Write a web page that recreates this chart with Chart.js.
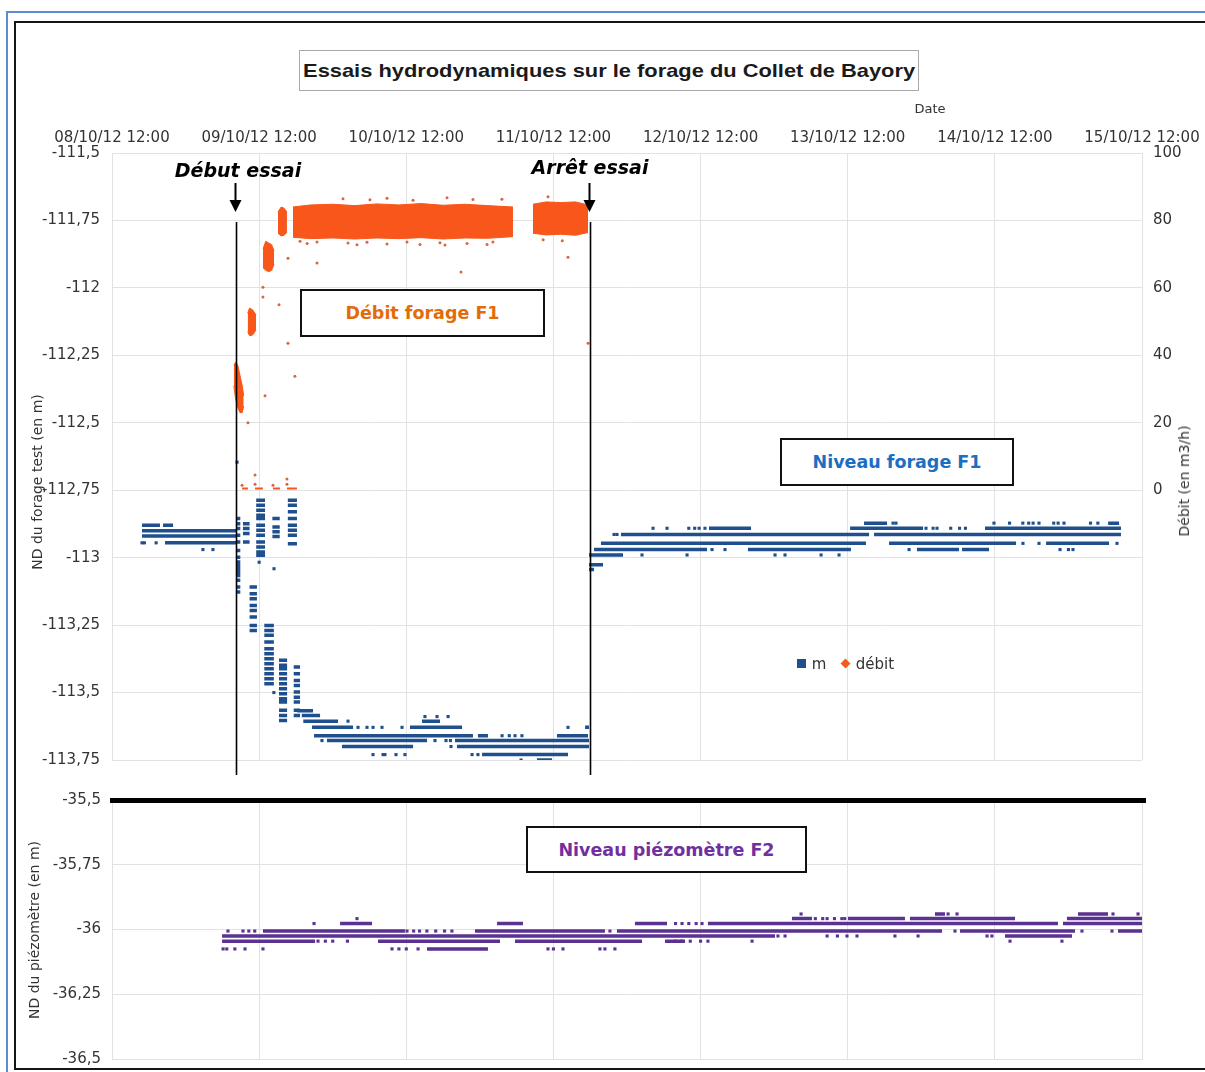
<!DOCTYPE html>
<html><head><meta charset="utf-8">
<script src="https://cdn.jsdelivr.net/npm/chart.js@4.4.0/dist/chart.umd.min.js"></script>
<style>
html,body{margin:0;padding:0;background:#fff;width:1205px;height:1072px;overflow:hidden;}
#wrap{position:relative;width:1205px;height:1072px;overflow:hidden;font-family:"DejaVu Sans",sans-serif;}
canvas{position:absolute;left:0;}
.ov{position:absolute;pointer-events:none;box-sizing:border-box;}
.c{position:absolute;transform:translate(-50%,-50%);white-space:nowrap;pointer-events:none;}
.rot{position:absolute;transform:translate(-50%,-50%) rotate(-90deg);white-space:nowrap;font-size:14px;color:#333;pointer-events:none;}
.box{position:absolute;box-sizing:border-box;border:2px solid #111;background:#fff;display:flex;align-items:center;justify-content:center;font-family:"DejaVu Sans",sans-serif;font-weight:bold;font-size:17.5px;}
.ann{font-family:"DejaVu Sans",sans-serif;font-weight:bold;font-style:italic;font-size:19px;color:#000;}
</style></head><body>
<div id="wrap">
<canvas id="top" width="1205" height="790" style="top:0"></canvas>
<canvas id="bot" width="1205" height="292" style="top:780px"></canvas>

<div class="ov" style="left:6px;top:11px;width:1300px;height:1200px;border-left:2px solid #5b8bd3;border-top:2px solid #5b8bd3;"></div>
<div class="ov" style="left:14px;top:21px;width:1300px;height:1049px;border:2px solid #151515;"></div>

<div class="ov" style="left:299px;top:50px;width:620px;height:41px;border:1.5px solid #a9a9a9;background:#fff;display:flex;align-items:center;justify-content:center;">
  <span style="display:inline-block;font-family:'Liberation Sans',Arial,sans-serif;font-weight:bold;font-size:19px;color:#1a1a1a;transform:scaleX(1.15);white-space:nowrap;">Essais hydrodynamiques sur le forage du Collet de Bayory</span>
</div>
<div class="c" style="left:930px;top:108px;font-size:13px;color:#333;">Date</div>

<div class="c ann" style="left:238px;top:170px;">Début essai</div>
<div class="c ann" style="left:590px;top:167px;">Arrêt essai</div>

<div class="box" style="left:300px;top:289px;width:245px;height:48px;color:#e36c0a;">Débit forage F1</div>
<div class="box" style="left:780px;top:438px;width:234px;height:48px;color:#1b6ec2;">Niveau forage F1</div>
<div class="box" style="left:526px;top:826px;width:281px;height:47px;color:#7030a0;">Niveau piézomètre F2</div>

<div class="rot" style="left:37px;top:482px;">ND du forage test (en m)</div>
<div class="rot" style="left:1184px;top:481px;">Débit (en m3/h)</div>
<div class="rot" style="left:34px;top:930px;">ND du piézomètre (en m)</div>

<div class="ov" style="left:797px;top:659px;width:9px;height:9px;background:#1f4f8c;"></div>
<div class="c" style="left:819px;top:664px;font-size:15px;color:#333;">m</div>
<div class="ov" style="left:842px;top:660px;width:7px;height:7px;background:#f55a1e;transform:rotate(45deg);"></div>
<div class="c" style="left:875px;top:664px;font-size:15px;color:#333;">débit</div>

<div class="ov" style="left:110px;top:798px;width:1036px;height:5px;background:#000;"></div>
</div>
<script>
// ---- axis labels ----
const dayValues = [0,1,2,3,4,5,6,7];
const dayLabels = ['08/10/12 12:00','09/10/12 12:00','10/10/12 12:00','11/10/12 12:00','12/10/12 12:00','13/10/12 12:00','14/10/12 12:00','15/10/12 12:00'];
const levelValues = [-113.75,-113.5,-113.25,-113,-112.75,-112.5,-112.25,-112,-111.75,-111.5];
const levelLabels = ['-113,75','-113,5','-113,25','-113','-112,75','-112,5','-112,25','-112','-111,75','-111,5'];
const debitValues = [0,20,40,60,80,100];
const debitLabels = ['0','20','40','60','80','100'];
const piezoValues = [-36.5,-36.25,-36,-35.75,-35.5];
const piezoLabels = ['-36,5','-36,25','-36','-35,75','-35,5'];
// test start / stop (days after 08/10/12 12:00)
const testMarks = [0.843, 3.249];

// ---- niveau forage F1 (m): dense runs [x0, x1, niveau] ----
const mRuns = [
 [0.204,0.326,-112.88],[0.347,0.415,-112.88],
 [0.204,0.843,-112.90],[0.204,0.843,-112.92],[0.36,0.843,-112.945],
 [1.26,1.366,-113.567],[1.29,1.414,-113.585],[1.30,1.536,-113.606],[2.107,2.229,-113.606],
 [1.359,1.638,-113.629],[2.025,2.379,-113.629],[3.215,3.242,-113.629],
 [1.373,2.453,-113.66],[2.487,2.555,-113.66],[3.024,3.235,-113.66],
 [1.461,2.141,-113.678],[2.331,3.242,-113.678],
 [1.563,2.046,-113.70],[2.345,3.242,-113.70],
 [2.515,3.099,-113.73],[2.888,2.99,-113.75],
 [3.242,3.276,-113.044],[3.242,3.337,-113.026],[3.242,3.473,-112.99],
 [3.276,4.044,-112.97],[4.322,5.022,-112.97],[5.471,5.756,-112.97],[5.777,5.96,-112.97],
 [3.323,5.124,-112.947],[5.281,6.144,-112.947],[6.348,6.776,-112.947],
 [3.459,5.145,-112.914],[5.179,6.857,-112.914],
 [4.057,4.343,-112.891],[5.016,5.512,-112.891],[5.933,6.857,-112.891],
 [5.111,5.267,-112.872],[6.77,6.844,-112.872]
];
// stacked dashes during pumping steps [x0, x1, [niveaux]]
const mColumns = [
 [0.846,0.872,[-112.855,-112.874,-112.892,-112.917,-112.942,-112.973,-112.998,-113.016,-113.028,-113.041,-113.053,-113.066,-113.084,-113.109,-113.127]],
 [0.89,0.935,[-112.874,-112.892,-112.91,-112.942]],
 [0.935,0.985,[-113.109,-113.134,-113.152,-113.177,-113.196,-113.22,-113.251,-113.27]],
 [0.98,1.04,[-112.787,-112.806,-112.824,-112.843,-112.855,-112.88,-112.898,-112.917,-112.942,-112.96,-112.979,-112.991]],
 [1.09,1.14,[-112.855,-112.886,-112.904,-112.922]],
 [1.195,1.257,[-112.787,-112.806,-112.83,-112.855,-112.88,-112.898,-112.917,-112.948]],
 [1.035,1.1,[-113.251,-113.27,-113.288,-113.313,-113.338,-113.356,-113.375,-113.393,-113.412,-113.43,-113.449,-113.467]],
 [1.135,1.19,[-113.38,-113.399,-113.412,-113.43,-113.449,-113.467,-113.486,-113.504,-113.523,-113.535,-113.566,-113.585,-113.604]],
 [1.235,1.278,[-113.405,-113.43,-113.455,-113.474,-113.498,-113.517,-113.535,-113.566,-113.585]]
];
const mDots = [
 [0.204,-112.945],[0.22,-112.945],[0.30,-112.945],[0.618,-112.97],[0.686,-112.97],[0.85,-112.646],
 [1.0,-113.017],[1.101,-113.041],[1.10,-113.5],[1.604,-113.606],
 [1.672,-113.629],[1.733,-113.629],[1.774,-113.629],[1.835,-113.629],[1.971,-113.629],[3.099,-113.629],
 [2.127,-113.589],[2.209,-113.589],[2.284,-113.589],
 [2.651,-113.66],[2.70,-113.66],[2.739,-113.66],[2.786,-113.66],
 [1.427,-113.678],[2.195,-113.678],[2.27,-113.678],[2.30,-113.678],[2.304,-113.70],
 [1.774,-113.73],[1.842,-113.73],[1.855,-113.73],[1.93,-113.73],[1.991,-113.73],[2.447,-113.73],[2.487,-113.73],[2.78,-113.75],
 [3.602,-112.99],[3.908,-112.99],[4.506,-112.99],[4.574,-112.99],[4.819,-112.99],[4.941,-112.99],
 [4.078,-112.97],[4.166,-112.97],[5.417,-112.97],[6.443,-112.97],[6.50,-112.97],[6.531,-112.97],
 [6.191,-112.947],[6.30,-112.947],[6.83,-112.947],[3.412,-112.914],[3.432,-112.914],
 [3.677,-112.891],[3.772,-112.891],[3.92,-112.891],[3.96,-112.891],[3.99,-112.891],[4.03,-112.891],
 [5.532,-112.891],[5.58,-112.891],[5.607,-112.891],[5.70,-112.891],[5.76,-112.891],[5.80,-112.891],
 [5.308,-112.872],[5.328,-112.872],[5.994,-112.872],[6.10,-112.872],[6.19,-112.872],[6.23,-112.872],
 [6.26,-112.872],[6.30,-112.872],[6.40,-112.872],[6.43,-112.872],[6.47,-112.872],[6.65,-112.872],[6.70,-112.872]
];

// ---- débit (m3/h): dense clouds [x list, upper list, lower list] ----
const debitBands = [
 [[0.828,0.84,0.855,0.87,0.885,0.895],[37,38,37,34,31,28],[31,27,24.5,23,23,25]],
 [[0.922,0.935,0.955,0.979],[52.5,54,53.5,52],[47,45.8,46,47.5]],
 [[1.026,1.045,1.065,1.085,1.101],[71.5,73.8,73.3,72.8,71],[66,65.2,64.8,65.2,67]],
 [[1.128,1.15,1.17,1.189],[82.5,84,83.6,82.5],[76.2,75.4,75.6,76.5]],
 [[1.23,1.35,1.5,1.65,1.8,1.95,2.1,2.25,2.4,2.55,2.725],[84,84.6,84.8,84.4,84.9,84.6,85,84.5,84.8,84.4,84],[75,74.6,74.8,74.5,74.8,74.6,74.9,74.5,74.8,74.7,75.2]],
 [[2.861,2.95,3.05,3.15,3.235],[84.8,85.5,85.3,85.5,84.6],[76.2,75.7,75.9,75.6,76.4]]
];
const debitZeroRuns = [[0.884,0.924,0.5],[0.972,1.026,0.5],[1.094,1.142,0.5],[1.189,1.257,0.5]];
const debitDots = [
 [0.884,1.5],[0.972,1.8],[1.094,1.5],[1.189,1.8],[0.972,4.5],[1.189,3.3],
 [0.924,20],[1.04,28],[1.026,60.2],[1.026,57.3],[1.135,55],[1.196,43.6],[1.243,33.8],[1.196,68.8],
 [1.393,67.4],[2.372,64.7],[3.099,69.1],[3.235,43.6],
 [1.278,73.8],[1.326,73.2],[1.393,73.6],[1.604,73.3],[1.665,72.8],[1.733,73.5],[1.869,73],[2.005,73.6],
 [2.093,72.9],[2.229,73.4],[2.263,72.7],[2.413,73.2],[2.549,72.9],[2.589,73.6],[2.93,74.3],[3.06,74],
 [1.57,86.4],[1.753,86.1],[1.869,86.6],[2.046,86],[2.277,86.7],[2.453,86.2],[2.65,86.3],[2.963,87]
];

// ---- niveau piézomètre F2 ----
const piezoRuns = [
 [5.593,5.661,-35.94],[6.565,6.769,-35.94],
 [4.621,4.757,-35.958],[5.002,5.389,-35.958],[5.423,6.137,-35.958],[6.49,7.0,-35.958],
 [1.55,1.767,-35.977],[2.617,2.793,-35.977],[3.554,3.772,-35.977],[4.05,6.429,-35.977],[6.463,7.0,-35.977],
 [1.026,1.991,-36.006],[2.467,3.35,-36.006],[3.432,5.641,-36.006],[5.763,6.545,-36.006],[6.837,7.0,-36.006],
 [0.748,4.506,-36.025],[6.069,6.524,-36.025],
 [0.748,1.38,-36.045],[1.808,2.637,-36.045],[2.739,3.602,-36.045],[3.758,3.894,-36.045],
 [2.141,2.555,-36.075]
];
const piezoDots = [
 [4.683,-35.94],[5.682,-35.94],[5.743,-35.94],[6.803,-35.94],[6.973,-35.94],
 [1.665,-35.958],[4.78,-35.958],[4.83,-35.958],[4.86,-35.958],[4.91,-35.958],[4.96,-35.958],[4.98,-35.958],
 [1.373,-35.977],[3.83,-35.977],[3.874,-35.977],[3.92,-35.977],[3.97,-35.977],[4.01,-35.977],
 [0.788,-36.006],[0.89,-36.006],[0.93,-36.006],[0.97,-36.006],[2.005,-36.006],[2.05,-36.006],[2.09,-36.006],
 [2.14,-36.006],[2.2,-36.006],[2.26,-36.006],[2.31,-36.006],[3.384,-36.006],[5.729,-36.006],[6.592,-36.006],[6.796,-36.006],
 [4.526,-36.025],[4.574,-36.025],[4.86,-36.025],[4.93,-36.025],[4.995,-36.025],[5.063,-36.025],[5.321,-36.025],
 [5.478,-36.025],[5.947,-36.025],[5.98,-36.025],
 [1.40,-36.045],[1.45,-36.045],[1.50,-36.045],[1.60,-36.045],[3.83,-36.045],[3.87,-36.045],[3.93,-36.045],
 [4.0,-36.045],[4.05,-36.045],[4.35,-36.045],[6.103,-36.045],[6.456,-36.045],
 [0.755,-36.075],[0.78,-36.075],[0.835,-36.075],[0.904,-36.075],[1.026,-36.075],[1.903,-36.075],[1.95,-36.075],
 [2.0,-36.075],[2.08,-36.075],[2.963,-36.075],[3.0,-36.075],[3.065,-36.075],[3.316,-36.075],[3.35,-36.075],[3.418,-36.075]
];

// ---- build ----
const C_BLUE='#1f4f8c', C_ORANGE='#f8561a', C_ORANGE_DOT='#d8673f', C_PURPLE='#5b3291', C_GRID='#e2e2e2';
Chart.defaults.font.family = "'DejaVu Sans', sans-serif";
Chart.defaults.font.size = 15;
Chart.defaults.color = '#333';

function runsToPoints(runs){const p=[];runs.forEach(r=>{p.push({x:r[0],y:r[2]},{x:r[1],y:r[2]},{x:r[1],y:null});});return p;}
function pairsToPoints(pairs){return pairs.map(q=>({x:q[0],y:q[1]}));}
function fixedTicks(values){return s=>{s.ticks=values.map(v=>({value:v}));};}

const mAllRuns = mRuns.slice();
mColumns.forEach(c=>c[2].forEach(v=>mAllRuns.push([c[0],c[1],v])));

const topDatasets = [
 {label:'m',data:runsToPoints(mAllRuns),yAxisID:'y',showLine:true,borderColor:C_BLUE,borderWidth:3.5,pointRadius:0,borderCapStyle:'butt',fill:false},
 {label:'m (points)',data:pairsToPoints(mDots),yAxisID:'y',showLine:false,pointStyle:'rect',pointRadius:2.2,backgroundColor:C_BLUE,borderWidth:0},
 {label:'débit',data:runsToPoints(debitZeroRuns),yAxisID:'y2',showLine:true,borderColor:C_ORANGE,borderWidth:2,pointRadius:0,fill:false},
 {label:'débit (points)',data:pairsToPoints(debitDots),yAxisID:'y2',showLine:false,pointStyle:'circle',pointRadius:1.5,backgroundColor:C_ORANGE_DOT,borderWidth:0}
];
debitBands.forEach(b=>{
 topDatasets.push({label:'débit haut',data:b[0].map((x,i)=>({x:x,y:b[1][i]})),yAxisID:'y2',showLine:true,borderColor:C_ORANGE,borderWidth:1,pointRadius:0,fill:false});
 topDatasets.push({label:'débit bas',data:b[0].map((x,i)=>({x:x,y:b[2][i]})),yAxisID:'y2',showLine:true,borderColor:C_ORANGE,borderWidth:1,pointRadius:0,fill:'-1',backgroundColor:C_ORANGE});
});

const testLinesPlugin = {
 id:'testLines',
 afterDraw(chart){
  const {ctx,chartArea,scales} = chart;
  testMarks.forEach(t=>{
   const px = Math.round(scales.x.getPixelForValue(t))+0.5;
   ctx.save();
   ctx.strokeStyle='#000'; ctx.fillStyle='#000';
   ctx.lineWidth=1.6;
   ctx.beginPath(); ctx.moveTo(px,chartArea.top+69); ctx.lineTo(px,chartArea.bottom+15); ctx.stroke();
   ctx.lineWidth=2;
   ctx.beginPath(); ctx.moveTo(px-1,chartArea.top+30); ctx.lineTo(px-1,chartArea.top+49); ctx.stroke();
   ctx.beginPath(); ctx.moveTo(px-7,chartArea.top+47); ctx.lineTo(px+5,chartArea.top+47); ctx.lineTo(px-1,chartArea.top+59); ctx.closePath(); ctx.fill();
   ctx.restore();
  });
 }
};

new Chart(document.getElementById('top'),{
 type:'line',
 data:{datasets:topDatasets},
 options:{
  responsive:false, animation:false, devicePixelRatio:1,
  layout:{padding:{left:0,right:0,top:0,bottom:30}},
  elements:{line:{tension:0}},
  plugins:{legend:{display:false},tooltip:{enabled:false}},
  scales:{
   x:{type:'linear',position:'top',min:0,max:7,afterBuildTicks:fixedTicks(dayValues),
      ticks:{callback:(v,i)=>dayLabels[i],padding:6,maxRotation:0,autoSkip:false},
      grid:{color:C_GRID,drawTicks:false},border:{color:C_GRID},
      afterFit:s=>{s.height=153;s.paddingLeft=0;s.paddingRight=0;}},
   y:{type:'linear',position:'left',min:-113.75,max:-111.5,afterBuildTicks:fixedTicks(levelValues),
      ticks:{callback:(v,i)=>levelLabels[i],padding:12,autoSkip:false},
      grid:{color:C_GRID,drawTicks:false},border:{color:C_GRID},
      afterFit:s=>{s.width=112;s.paddingTop=0;s.paddingBottom=0;}},
   y2:{type:'linear',position:'right',min:-80,max:100,afterBuildTicks:fixedTicks(debitValues),
      ticks:{callback:(v,i)=>debitLabels[i],padding:11,autoSkip:false},
      grid:{display:false,drawTicks:false},border:{display:false},
      afterFit:s=>{s.width=63;s.paddingTop=0;s.paddingBottom=0;}}
  }
 },
 plugins:[testLinesPlugin]
});

new Chart(document.getElementById('bot'),{
 type:'line',
 data:{datasets:[
  {label:'piézomètre',data:runsToPoints(piezoRuns),showLine:true,borderColor:C_PURPLE,borderWidth:3.5,pointRadius:0,borderCapStyle:'butt',fill:false},
  {label:'piézomètre (points)',data:pairsToPoints(piezoDots),showLine:false,pointStyle:'rect',pointRadius:2.2,backgroundColor:C_PURPLE,borderWidth:0}
 ]},
 options:{
  responsive:false, animation:false, devicePixelRatio:1,
  layout:{padding:{left:0,right:63,top:20,bottom:13}},
  elements:{line:{tension:0}},
  plugins:{legend:{display:false},tooltip:{enabled:false}},
  scales:{
   x:{type:'linear',position:'bottom',min:0,max:7,afterBuildTicks:fixedTicks(dayValues),
      ticks:{display:false},grid:{color:C_GRID,drawTicks:false},border:{color:C_GRID},
      afterFit:s=>{s.height=0;s.paddingLeft=0;s.paddingRight=0;}},
   y:{type:'linear',position:'left',min:-36.5,max:-35.5,afterBuildTicks:fixedTicks(piezoValues),
      ticks:{callback:(v,i)=>piezoLabels[i],padding:11,autoSkip:false},
      grid:{color:C_GRID,drawTicks:false},border:{color:C_GRID},
      afterFit:s=>{s.width=112;s.paddingTop=0;s.paddingBottom=0;}}
  }
 }
});
</script>
</body></html>
